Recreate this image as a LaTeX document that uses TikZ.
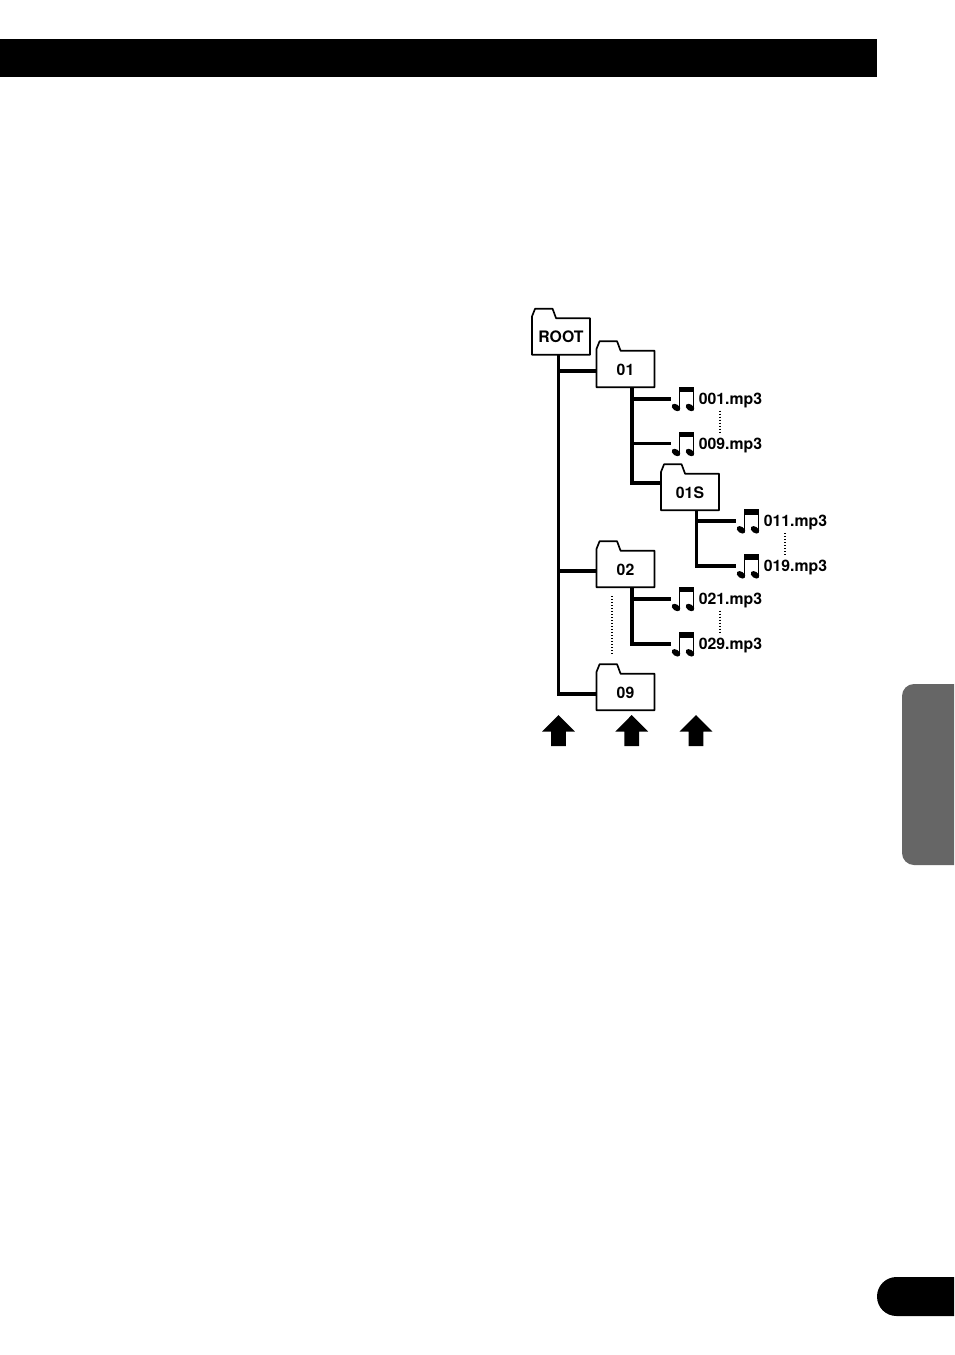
\documentclass[tikz,border=0pt]{standalone}
\usepackage{xcolor}
\usepackage{fontspec}
\setmainfont{TeX Gyre Heros}
\usepackage{tikz}
\usetikzlibrary{positioning, calc}
\definecolor{tabgray}{RGB}{102, 102, 102}

\begin{document}
\begin{tikzpicture}[
  x=0.75pt, y=-0.75pt,
  font=\fontsize{11.85}{14}\selectfont\bfseries,
  folder/.style={
    inner sep=0pt, text height=9.3pt, text depth=0pt,
    minimum width=43pt, minimum height=27pt
  },
  filename/.style={anchor=west, inner sep=0pt},
  trunk/.style={line width=2.4pt},
  branch/.style={line width=2.7pt},
  dotline/.style={line width=1.5pt, dash pattern=on 0.85pt off 1.4pt},
  note/.pic={
    \fill (8,-11.7) rectangle (23.2,-6.5);
    \draw[line width=1.3pt] (8.6,-7) -- (8.6,9.5);
    \draw[line width=1.3pt] (22.6,-7) -- (22.6,9.5);
    \fill[rotate around={-35:(5,8.8)}] (5,8.8) ellipse (4.8 and 3.1);
    \fill[rotate around={-35:(19,8.8)}] (19,8.8) ellipse (4.8 and 3.1);
  }
]
\useasboundingbox (0,0) rectangle (954,1355);
\fill[white] (0,0) rectangle (954,1355);

% page furniture
\fill (0,39) rectangle (877,77);
\fill[tabgray] (954,684) [rounded corners=9pt] -- (902,684) -- (902,865) [sharp corners] -- (954,865) -- cycle;
\fill (954,1277) [rounded corners=14.6pt] -- (877,1277) -- (877,1316) [sharp corners] -- (954,1316) -- cycle;

% connector ends
\coordinate (t00) at (558.5,354);
\coordinate (t01) at (632,387);
\coordinate (t02) at (632,587);
\coordinate (t1s) at (696.5,510);
\coordinate (c01) at (597,371);
\coordinate (c02) at (597,571);
\coordinate (c09) at (597,694);
\coordinate (c1s) at (661.5,483);
\coordinate (n001) at (671,398.7);
\coordinate (n009) at (671,443.7);
\coordinate (n011) at (736,521);
\coordinate (n019) at (736,566);
\coordinate (n021) at (671,598.7);
\coordinate (n029) at (671,644);

% tree lines
\draw[trunk] (t00) |- (c09);
\draw[trunk] (t00 |- c01) -- (c01);
\draw[trunk] (t00 |- c02) -- (c02);
\draw[branch, line width=3pt] (t01) |- (c1s);
\draw[branch] (t01 |- n001) -- (n001);
\draw[trunk] (t01 |- n009) -- (n009);
\draw[trunk] (t1s) |- (n019);
\draw[trunk] (t1s |- n011) -- (n011);
\draw[branch] (t02) |- (n029);
\draw[branch] (t02 |- n021) -- (n021);

% folders
\node[folder] (root) at (561,336.5) {ROOT};
\node[folder] (f01) at (625.5,369) {01};
\node[folder] (f1s) at (690,492) {01S};
\node[folder] (f02) at (625.5,569) {02};
\node[folder] (f09) at (625.5,692) {09};
\foreach \f in {root,f01,f1s,f02,f09}
  \draw[line width=1.25pt, line join=round] (\f.north west) -- ++(0,-2) -- ++(3,-7.5) -- ++(17.5,0) -- ++(3.5,9.5) -- (\f.north east) -- (\f.south east) -- (\f.south west) -- cycle;

% files
\foreach \n/\t in {001/001.mp3,009/009.mp3,011/011.mp3,019/019.mp3,021/021.mp3,029/029.mp3}{
  \pic at (n\n) {note};
  \node[filename, right=27.5 of n\n, yshift=-1pt] (l\n) {\t};
}

% dots
\draw[dotline] ($(l001.south)+(-10.5,3)$) -- ($(l009.north)+(-10.5,-3)$);
\draw[dotline] ($(l011.south)+(-10.5,3)$) -- ($(l019.north)+(-10.5,-3)$);
\draw[dotline] ($(l021.south)+(-10.5,3)$) -- ($(l029.north)+(-10.5,-3)$);
\draw[dotline] ($(f02.south)+(-14,9)$) -- ($(f09.north)+(-14,-18.5)$);

% arrows
\foreach \x in {558.5,631.7,696}
  \fill (\x,715) -- ++(16.3,16.5) -- ++(-9,0) -- ++(0,14.5) -- ++(-14.6,0) -- ++(0,-14.5) -- ++(-9,0) -- cycle;
\end{tikzpicture}
\end{document}
